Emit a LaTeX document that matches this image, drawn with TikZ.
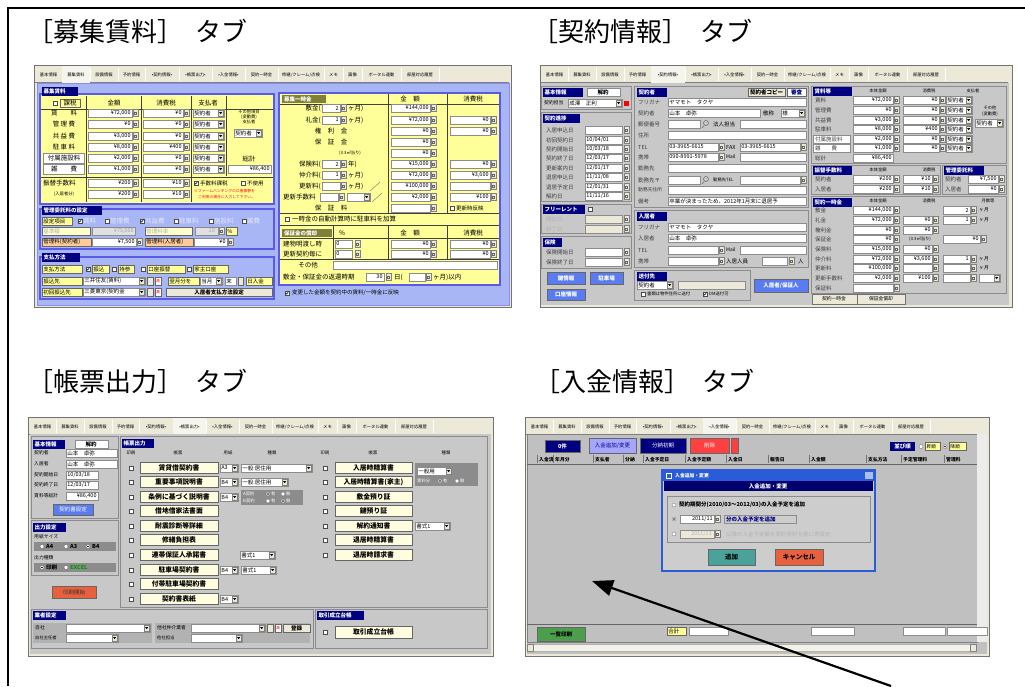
\documentclass[tikz,border=0pt]{standalone}
\usepackage{fontspec}
\setmainfont{Noto Sans CJK JP}
\usetikzlibrary{arrows.meta}
\definecolor{navy}{HTML}{000080}
\definecolor{peri}{HTML}{A9B6F6}
\definecolor{bordblue}{HTML}{5A5AE6}
\definecolor{yel}{HTML}{FFFF99}
\definecolor{paleyel}{HTML}{FFFFCC}
\definecolor{orng}{HTML}{FFCC99}
\definecolor{olv}{HTML}{80803C}
\definecolor{lgt}{HTML}{E4E6FA}
\definecolor{xpbeige}{HTML}{ECE9D8}
\definecolor{wgray}{HTML}{C8C8C8}
\definecolor{lgray}{HTML}{C0C0C0}
\definecolor{btblue}{HTML}{5A7CF0}
\definecolor{cream}{HTML}{FFFDE0}
\definecolor{tealb}{HTML}{4AA39A}
\definecolor{redb}{HTML}{E8603C}
\definecolor{xpblue}{HTML}{2A5CD8}
\newcommand{\fsT}{\fontsize{4.3}{5}\selectfont}
\newcommand{\fsR}{\fontsize{3.8}{4}\selectfont}
\newcommand{\fsA}{\fontsize{4.8}{5}\selectfont}
\newcommand{\fsB}{\fontsize{5.5}{6}\selectfont}
\newcommand{\fsC}{\fontsize{6.5}{7}\selectfont}
\newcommand{\fsH}{\fontsize{5.5}{6}\selectfont\bfseries}
\newcommand{\fsBtn}{\fontsize{6.8}{7}\selectfont\bfseries}
\newcommand{\fsTitle}{\fontsize{26}{28}\selectfont}
\tikzset{
 txt/.style={inner sep=0pt, font=\fsB},
 fld/.style={draw=black!45, fill=white, line width=0.3pt},
 ttl/.style={inner sep=0pt, anchor=west, font=\fsTitle},
}
\newcommand{\tx}[4][]{\node[txt,#1] at ({#2},{#3}) {#4};}
\newcommand{\fldR}[4]{\draw[fld] ({#1},{#3-4}) rectangle ({#2},{#3+4});\node[txt,anchor=east] at ({#2-1.2},{#3}) {#4};}
\newcommand{\fldL}[4]{\draw[fld] ({#1},{#3-4}) rectangle ({#2},{#3+4});\node[txt,anchor=west] at ({#1+1.2},{#3}) {#4};}
\newcommand{\spn}[2]{\draw[fill=xpbeige,draw=black!50,line width=0.3pt] ({#1},{#2-3.5}) rectangle ({#1+5},{#2+3.5});\draw[black!60,line width=0.3pt] ({#1+1.5},{#2-1}) rectangle ({#1+3.5},{#2+1});}
\newcommand{\ddn}[4]{\draw[fld] ({#1},{#3-4}) rectangle ({#2},{#3+4});\draw[fill=xpbeige,draw=black!50,line width=0.3pt] ({#2-6},{#3-3.3}) rectangle ({#2-0.7},{#3+3.3});\fill ({#2-4.9},{#3-0.9}) -- ({#2-1.8},{#3-0.9}) -- ({#2-3.35},{#3+1.1}) -- cycle;\node[txt,anchor=west] at ({#1+1.2},{#3}) {#4};}
\newcommand{\hdrbox}[4]{\fill[navy] ({#1},{#3-4.5}) rectangle ({#2},{#3+4.5});\node[txt,text=white,font=\fsH,anchor=west] at ({#1+1.5},{#3}) {#4};}
\newcommand{\cbx}[2]{\draw[fill=white,draw=black!70,line width=0.3pt] ({#1-2},{#2-2}) rectangle ({#1+2},{#2+2});}
\newcommand{\cbk}[2]{\cbx{#1}{#2}\draw[line width=0.5pt] ({#1-1.3},{#2}) -- ({#1-0.3},{#2+1.1}) -- ({#1+1.4},{#2-1.3});}
\newcommand{\rbo}[2]{\draw[fill=white,draw=black!60,line width=0.3pt] ({#1},{#2}) circle (2pt);}
\newcommand{\rbk}[2]{\rbo{#1}{#2}\fill ({#1},{#2}) circle (0.9pt);}
\newcommand{\btn}[6]{\draw[fill=#5,draw=black!60,line width=0.4pt] ({#1},{#2}) rectangle ({#3},{#4});\node[txt] at ({(#1+#3)/2},{(#2+#4)/2}) {#6};}
\newcommand{\lbox}[5]{\draw[fill=#4,draw=black!60,line width=0.3pt] ({#1},{#3-4}) rectangle ({#2},{#3+4});\node[txt,anchor=west] at ({#1+1.2},{#3}) {#5};}
\newcommand{\sect}[4]{\draw[draw=white,line width=0.5pt] ({#1+0.7},{#2+0.7}) rectangle ({#3+0.7},{#4+0.7});\draw[draw=black!45,line width=0.5pt] ({#1},{#2}) rectangle ({#3},{#4});}
\newcommand{\tabrow}[4]{%
 \draw[black!50,line width=0.4pt] ({#1},{#2+17}) -- ({#4},{#2+17});
 \foreach \a/\b/\tlab [count=\i] in {0/27/基本情報,27/55/募集賃料,55/83/設備情報,83/110/予約情報,110/144/•契約情報•,144/177/•帳票出力•,177/210/•入金情報•,210/243/契約一時金,243/289/{修繕/クレーム/点検},289/308/メモ,308/327/画像,327/366/ポータル連動,366/404/部屋対応履歴}{%
   \ifnum\i=#3\relax
     \fill[white!55!xpbeige] ({#1+\a},{#2+1}) rectangle ({#1+\b},{#2+17.6});
   \fi
   \draw[black!45,line width=0.3pt] ({#1+\b},{#2+3}) -- ({#1+\b},{#2+16});
   \draw[white,line width=0.3pt] ({#1+\b+0.6},{#2+3}) -- ({#1+\b+0.6},{#2+16});
   \node[txt,font=\fsT] at ({#1+(\a+\b)/2},{#2+10}) {\tlab};
 }}
\begin{document}
\begin{tikzpicture}[x=1pt,y=-1pt]
\useasboundingbox (0,0) rectangle (1025,686);
\fill[white] (0,0) rectangle (1025,686);
% frame
\draw[line width=1.4pt] (1025,8) -- (8,8) -- (8,686);
% titles
\node[ttl] (t1) at (27,31) {［募集賃料］\hspace{12pt}タブ};
\node[ttl] (t2) at (532,31) {［契約情報］\hspace{12pt}タブ};
\node[ttl] (t3) at (27,381) {［帳票出力］\hspace{12pt}タブ};
\node[ttl] (t4) at (534,381) {［入金情報］\hspace{12pt}タブ};

% ================= PANEL 1 =================
\draw[fill=xpbeige,draw=black!55,line width=0.6pt] (34,65) rectangle (511,307);
\tabrow{35}{65}{2}{509}
\fill[peri] (37,83) rectangle (509,305);
\draw[bordblue!70,line width=0.6pt] (37,83) rectangle (509,305);
% S1
\fill[yel] (41,95) rectangle (273,203);
\draw[bordblue,line width=1.5pt] (40,94) rectangle (274,204);
\draw[black!75,line width=0.4pt] (86,96)--(86,202) (141,96)--(141,202) (191,96)--(191,202) (226,96)--(226,176) (41,109)--(273,109) (41,177)--(273,177);
\hdrbox{42}{78}{91}{募集賃料}
\cbx{55}{103}
\draw[black!60,line width=0.3pt] (60,99) rectangle (80,107);
\tx[font=\fsC]{70}{103}{課税}
\tx[font=\fsC]{114}{103}{金額}
\tx[font=\fsC]{166}{103}{消費税}
\tx[font=\fsC]{208}{103}{支払者}
\draw[fld] (43,153) rectangle (84,163);
\draw[fld] (43,164) rectangle (84,174);
\foreach \yy/\lab/\am/\tax in {113/{賃　　料}/{¥72,000}/{¥0},124/{管 理 費}/{¥0}/{¥0},136/{共 益 費}/{¥3,000}/{¥0},147/{駐 車 料}/{¥8,000}/{¥400},158/{付属施設料}/{¥2,000}/{¥0},169/{雑　　費}/{¥1,000}/{¥0}}{
 \tx[font=\fsC]{64}{\yy}{\lab}
 \fldR{88}{132}{\yy}{\am}\spn{133}{\yy}
 \fldR{143}{183}{\yy}{\tax}\spn{184}{\yy}
 \ddn{193}{224}{\yy}{契約者}
}
\tx[font=\fsT]{249}{112}{その他項目}
\tx[font=\fsT]{249}{117}{(変動費)}
\tx[font=\fsT]{249}{122}{支払者}
\ddn{234}{262}{133}{契約者}
\tx[font=\fsC]{249}{159}{総計}
\fldR{228}{271}{169}{¥86,400}
\tx[font=\fsC,anchor=west]{43}{183}{振替手数料}
\tx[font=\fsT]{64}{194}{(入居者分)}
\fldR{88}{132}{183}{¥200}\spn{133}{183}
\fldR{88}{132}{194}{¥200}\spn{133}{194}
\fldR{143}{183}{183}{¥10}\spn{184}{183}
\fldR{143}{183}{194}{¥10}\spn{184}{194}
\cbk{196}{183}\tx[anchor=west]{200}{183}{手数料課税}
\cbx{243}{183}\tx[anchor=west]{247}{183}{不使用}
\tx[font=\fsR,text=red,anchor=west]{194}{191}{※ファームバンキングの口座振替を}
\tx[font=\fsR,text=red,anchor=west]{198}{197}{ご利用の場合に入力して下さい。}
% S2
\draw[bordblue,line width=1.5pt] (40,209) rectangle (274,249);
\hdrbox{42}{102}{210}{管理委託料の設定}
\lbox{42}{72}{221}{yel}{設定項目}
\cbk{80}{221}\tx[anchor=west,text=lgt,font=\fsC]{83}{221}{賃料}
\cbx{107}{221}\tx[anchor=west,text=lgt,font=\fsC]{110}{221}{管理費}
\cbk{142}{221}\tx[anchor=west,text=lgt,font=\fsC]{145}{221}{共益費}
\cbx{176}{221}\tx[anchor=west,text=lgt,font=\fsC]{179}{221}{駐車料}
\cbx{211}{221}\tx[anchor=west,text=lgt,font=\fsC]{214}{221}{施設料}
\cbx{244}{221}\tx[anchor=west,text=lgt,font=\fsC]{247}{221}{雑費}
\lbox{42}{90}{231}{paleyel}{\textcolor{black!30}{基準額}}
\draw[fld,fill=black!12] (92,227) rectangle (135,235);\tx[anchor=east,text=black!35]{134}{231}{¥75,000}
\lbox{145}{192}{231}{paleyel}{\textcolor{black!30}{管理料率}}
\draw[fld,fill=black!12] (195,227) rectangle (218,235);\tx[anchor=east,text=black!35]{215}{231}{10}\spn{219}{231}
\lbox{226}{237}{231}{yel}{\%}
\lbox{42}{91}{242}{orng}{管理料(契約者)}
\fldR{92}{136}{242}{¥7,500}\spn{137}{242}
\lbox{145}{193}{242}{orng}{管理料(入居者)}
\fldR{194}{227}{242}{¥0}\spn{228}{242}
% S3
\draw[bordblue,line width=1.5pt] (40,257) rectangle (274,299);
\hdrbox{42}{80}{257}{支払方法}
\lbox{42}{82}{269}{yel}{支払方法}
\cbk{88}{269}\lbox{92}{109}{269}{yel}{振込}
\cbx{114}{269}\lbox{118}{134}{269}{yel}{持参}
\cbx{143}{269}\lbox{147}{185}{269}{yel}{口座振替}
\cbx{189}{269}\lbox{193}{228}{269}{yel}{家主口座}
\lbox{42}{82}{281}{yel}{振込先}
\ddn{83}{145}{281}{三井住友(賃料)}
\btn{147}{277}{153}{285}{xpbeige}{}
\btn{155}{277}{161}{285}{white}{\textcolor{red}{\fsR 満}}
\lbox{168}{199}{281}{yel}{翌月分を}
\ddn{200}{222}{281}{当月}
\fldL{225}{236}{281}{末}
\btn{238}{277}{243}{285}{xpbeige}{}
\lbox{246}{272}{281}{yel}{日入金}
\lbox{42}{82}{292}{yel}{初回振込先}
\ddn{83}{145}{292}{三菱東京(契約金}
\btn{147}{288}{153}{296}{xpbeige}{}
\btn{155}{288}{161}{296}{white}{\textcolor{red}{\fsR 満}}
\btn{166}{288}{272}{296}{xpbeige}{\fsH 入居者支払方法設定}
% right section
\fill[yel] (280,94) rectangle (499,284);
\draw[bordblue,line width=1.5pt] (279,93) rectangle (500,285);
\draw[black!75,line width=0.4pt] (388,94)--(388,213) (447,94)--(447,213) (280,104)--(499,104) (280,213)--(499,213) (280,225)--(499,225) (333,225)--(333,259) (388,225)--(388,259) (447,225)--(447,259) (280,238)--(499,238) (280,259)--(499,259);
\fill[olv] (282,95) rectangle (326,103);\tx[anchor=west,text=white,font=\fsH]{284}{99}{募集一時金}
\tx[font=\fsC]{410}{99}{金　額}
\tx[font=\fsC]{473}{99}{消費税}
\tx[font=\fsC,anchor=east]{321}{108}{敷金(}\fldR{322}{340}{108}{2}\spn{341}{108}\tx[font=\fsC,anchor=west]{348}{108}{ヶ月)}
\tx[font=\fsC,anchor=east]{321}{120}{礼金(}\fldR{322}{340}{120}{1}\spn{341}{120}\tx[font=\fsC,anchor=west]{348}{120}{ヶ月)}
\tx[font=\fsC]{331}{131}{権　利　金}
\tx[font=\fsC]{331}{142}{保　証　金}
\tx[font=\fsT]{350}{153}{(3.3㎡当り)}
\tx[font=\fsC,anchor=east]{321}{164}{保険料(}\fldR{322}{340}{164}{2}\spn{341}{164}\tx[font=\fsC,anchor=west]{348}{164}{年)}
\tx[font=\fsC,anchor=east]{321}{175}{仲介料(}\fldR{322}{340}{175}{1}\spn{341}{175}\tx[font=\fsC,anchor=west]{348}{175}{ヶ月)}
\tx[font=\fsC,anchor=east]{321}{186}{更新料(}\fldR{322}{340}{186}{}\spn{341}{186}\tx[font=\fsC,anchor=west]{348}{186}{ヶ月)}
\tx[font=\fsC,anchor=west]{283}{197}{更新手数料}\fldR{320}{338}{197}{}\spn{339}{197}\ddn{347}{370}{197}{}
\draw[black!55,line width=0.4pt] (370,191)--(380,182) (372,202)--(382,193);
\tx[font=\fsC]{331}{208}{保　証　料}
\foreach \yy/\am in {108/{¥144,000},120/{¥72,000},131/{¥0},142/{¥0},153/{¥0},164/{¥15,000},175/{¥72,000},186/{¥100,000},197/{¥2,000},208/{}}{
 \fldR{391}{430}{\yy}{\am}\spn{431}{\yy}}
\foreach \yy/\tax in {120/{¥0},131/{¥0},164/{¥0},175/{¥3,600},186/{},197/{¥100}}{
 \fldR{450}{490}{\yy}{\tax}\spn{491}{\yy}}
\cbx{452}{208}\tx[anchor=west]{456}{208}{更新時反映}
\cbx{287}{219}\tx[anchor=west,font=\fsC]{292}{219}{一時金の自動計算時に駐車料を加算}
\fill[olv] (282,229) rectangle (332,237);\tx[anchor=west,text=white,font=\fsH]{284}{233}{保証金の償却}
\tx[font=\fsC]{342}{233}{\%}
\tx[font=\fsC]{410}{233}{金　額}
\tx[font=\fsC]{473}{233}{消費税}
\tx[font=\fsC,anchor=west]{283}{244}{建物明渡し時}\fldL{335}{352}{244}{0}\spn{355}{244}
\tx[font=\fsC,anchor=west]{283}{254}{更新契約毎に}\fldL{335}{352}{254}{0}\spn{355}{254}
\fldR{391}{430}{244}{¥0}\spn{431}{244}\fldR{450}{490}{244}{¥0}\spn{491}{244}
\fldR{391}{430}{254}{¥0}\spn{431}{254}\fldR{450}{490}{254}{¥0}\spn{491}{254}
\tx[font=\fsC]{308}{265}{その他}\fldL{333}{497}{265}{}
\tx[font=\fsC,anchor=west]{283}{277}{敷金・保証金の返還時期}\fldR{366}{384}{277}{30}\spn{386}{277}\tx[font=\fsC,anchor=west]{394}{277}{日(}\fldL{409}{425}{277}{}\spn{426}{277}\tx[font=\fsC,anchor=west]{433}{277}{ヶ月)以内}
\cbk{287}{293}\tx[anchor=west,font=\fsB]{292}{293}{変更した金額を契約中の賃料/一時金に反映}

% ================= PANEL 2 =================
\draw[fill=xpbeige,draw=black!55,line width=0.6pt] (540,65) rectangle (1012,307);
\tabrow{541}{65}{5}{1008}
\fill[wgray] (541,83) rectangle (1009,305);
% left column
\sect{541}{86}{631}{109}
\hdrbox{543}{583}{92}{基本情報}
\draw[fld,line width=0.5pt] (587,88) rectangle (620,96);\tx[font=\fsH]{603}{92}{解約}
\tx[anchor=west,font=\fsA]{544}{103}{契約担当}\ddn{568}{622}{103}{成澤　正利}
\fill[red] (624,101) rectangle (629,106);
\sect{541}{112}{631}{201}
\hdrbox{543}{580}{118}{契約進捗}
\foreach \yy/\lab/\val in {130/入居申込日/{},140/初回契約日/{10/04/01},149/契約開始日/{10/03/18},158/契約終了日/{12/03/17},168/更新案内日/{12/01/17},177/退居申込日/{11/11/08},187/退居予定日/{12/01/31},196/解約日/{11/11/16}}{
 \tx[anchor=west,font=\fsB,text=black!75]{546}{\yy}{\lab}\fldL{585}{622}{\yy}{\val}\spn{624}{\yy}}
\sect{541}{204}{631}{233}
\hdrbox{543}{585}{209}{フリーレント}\cbx{590}{209}
\tx[anchor=west,text=black!30]{546}{219}{開始日}\draw[fld,fill=xpbeige] (585,215) rectangle (622,223);\spn{624}{219}
\tx[anchor=west,text=black!30]{546}{229}{終了日}\draw[fld,fill=xpbeige] (585,225) rectangle (622,233);\spn{624}{229}
\sect{541}{236}{631}{268}
\hdrbox{543}{562}{242}{保険}
\tx[anchor=west,text=black!75]{546}{252}{保険開始日}\fldL{585}{622}{252}{}\spn{624}{252}
\tx[anchor=west,text=black!75]{546}{262}{保険終了日}\fldL{585}{622}{262}{}\spn{624}{262}
\btn{547}{272}{585}{284}{btblue}{\textcolor{white}{\fsH 鍵情報}}
\btn{590}{272}{623}{284}{btblue}{\textcolor{white}{\fsH 駐車場}}
\btn{547}{289}{585}{300}{btblue}{\textcolor{white}{\fsH 口座情報}}
% middle column
\sect{634}{86}{808}{207}
\hdrbox{637}{667}{92}{契約者}
\btn{748}{88}{785}{96}{xpbeige}{\fsH 契約者コピー}
\btn{787}{88}{806}{96}{white}{\textcolor{navy}{\fsH 審査}}
\tx[anchor=west,text=black!75]{638}{102}{フリガナ}\fldL{668}{806}{102}{ヤマモト　タクヤ}
\tx[anchor=west,text=black!75]{638}{113}{契約者}\fldL{668}{760}{113}{山本　卓弥}\tx[anchor=west]{763}{113}{敬称}\ddn{781}{805}{113}{様}
\tx[anchor=west,text=black!75]{638}{124}{郵便番号}\fldL{668}{700}{124}{}
\draw[black!60,line width=0.5pt] (706,123) circle (2.5pt) (704,125.5)--(702,128);
\tx[anchor=west]{713}{124}{法人担当}\fldL{740}{806}{124}{}
\tx[anchor=west,text=black!75]{638}{135}{住所}\fldL{668}{806}{135}{}
\tx[anchor=west,text=black!75]{638}{147}{TEL}\fldL{668}{718}{147}{03-3965-6615}\spn{719}{147}\tx[anchor=west]{726}{147}{FAX}\fldL{740}{800}{147}{03-3965-6615}\spn{801}{147}
\tx[anchor=west,text=black!75]{638}{157}{携帯}\fldL{668}{718}{157}{090-8991-5978}\spn{719}{157}\tx[anchor=west,font=\fsA]{726}{157}{Mail}\fldL{740}{806}{157}{}
\tx[anchor=west,text=black!75]{638}{168}{勤務先}\fldL{668}{806}{168}{}
\tx[anchor=west,text=black!75]{638}{180}{勤務先〒}\fldL{668}{700}{180}{}
\draw[black!60,line width=0.5pt] (706,179) circle (2.5pt) (704,181.5)--(702,184);
\tx[anchor=west,font=\fsT]{713}{180}{勤務先TEL}\fldL{740}{800}{180}{}\spn{801}{180}
\tx[anchor=west,text=black!75,font=\fsA]{638}{190}{勤務先住所}\fldL{668}{806}{190}{}
\tx[anchor=west,text=black!75]{638}{201}{備考}\fldL{668}{806}{201}{卒業が決まったため、2012年1月末に退居予}
\sect{634}{210}{808}{267}
\hdrbox{637}{667}{216}{入居者}
\tx[anchor=west,text=black!75]{638}{227}{フリガナ}\fldL{668}{806}{227}{ヤマモト　タクヤ}
\tx[anchor=west,text=black!75]{638}{238}{入居者}\fldL{668}{806}{238}{山本　卓弥}
\tx[anchor=west,text=black!75]{638}{250}{TEL}\fldL{668}{718}{250}{}\spn{719}{250}\tx[anchor=west,font=\fsA]{726}{250}{Mail}\fldL{740}{806}{250}{}
\tx[anchor=west,text=black!75]{638}{261}{携帯}\fldL{668}{718}{261}{}\spn{719}{261}\tx[anchor=west]{726}{261}{入居人員}\fldL{762}{787}{261}{}\spn{789}{261}\tx[anchor=west]{798}{261}{人}
\sect{634}{270}{750}{300}
\hdrbox{637}{667}{276}{送付先}
\ddn{637}{673}{285}{契約者}
\draw[fld,fill=xpbeige] (678,281) rectangle (745,289);
\cbx{643}{294}\tx[anchor=west,font=\fsT]{647}{294}{書類は物件住所に送付}
\cbk{705}{294}\tx[anchor=west,font=\fsT]{709}{294}{DM送付可}
\btn{754}{279}{808}{292}{btblue}{\textcolor{white}{\fsH 入居者/保証人}}
% right column
\sect{811}{86}{1006}{163}
\hdrbox{813}{852}{91}{賃料等}
\tx[font=\fsT]{878}{91}{本体金額}\tx[font=\fsT]{929}{91}{消費税}\tx[font=\fsT]{973}{91}{支払者}
\draw[fld] (813,135) rectangle (850,143);
\draw[fld] (813,144) rectangle (850,152);
\foreach \yy/\lab/\am/\tax in {100/賃料/{¥72,000}/{¥0},110/管理費/{¥0}/{¥0},120/共益費/{¥3,000}/{¥0},129/駐車料/{¥8,000}/{¥400},139/付属施設料/{¥2,000}/{¥0},148/{雑　　費}/{¥1,000}/{¥0}}{
 \tx[anchor=west,text=black!75]{815}{\yy}{\lab}
 \fldR{853}{893}{\yy}{\am}\spn{894}{\yy}
 \fldR{903}{939}{\yy}{\tax}\spn{940}{\yy}
 \ddn{946}{972}{\yy}{契約者}}
\tx[font=\fsT]{990}{108}{その他}
\tx[font=\fsT]{990}{114}{(変動費)}
\ddn{975}{1003}{123}{契約者}
\tx[anchor=west,text=black!75]{815}{158}{総計}\fldR{853}{893}{158}{¥86,400}
\sect{811}{165}{940}{194}
\hdrbox{813}{852}{170}{振替手数料}
\tx[font=\fsT]{878}{170}{本体金額}\tx[font=\fsT]{929}{170}{消費税}
\tx[anchor=west,text=black!75]{815}{179}{契約者}\fldR{853}{893}{179}{¥200}\spn{894}{179}\fldR{903}{932}{179}{¥10}\spn{933}{179}
\tx[anchor=west,text=black!75]{815}{189}{入居者}\fldR{853}{893}{189}{¥200}\spn{894}{189}\fldR{903}{932}{189}{¥10}\spn{933}{189}
\sect{942}{165}{1006}{194}
\hdrbox{944}{984}{170}{管理委託料}
\tx[anchor=west,text=black!75]{945}{179}{契約者}\fldR{968}{998}{179}{¥7,500}\spn{999}{179}
\tx[anchor=west,text=black!75]{945}{189}{入居者}\fldR{968}{998}{189}{¥0}\spn{999}{189}
\sect{811}{196}{1006}{293}
\hdrbox{813}{852}{202}{契約一時金}
\tx[font=\fsT]{878}{201}{本体金額}\tx[font=\fsT]{929}{201}{消費税}\tx[font=\fsT]{988}{201}{月数等}
\foreach \yy/\lab/\am in {210/敷金/{¥144,000},220/礼金/{¥72,000},230/権利金/{¥0},239/保証金/{¥0},249/保険料/{¥15,000},259/仲介料/{¥72,000},268/更新料/{¥100,000},278/更新手数料/{¥2,000},288/保証料/{}}{
 \tx[anchor=west,text=black!75]{815}{\yy}{\lab}
 \fldR{853}{893}{\yy}{\am}\spn{894}{\yy}}
\foreach \yy/\tax in {220/{¥0},230/{¥0},249/{¥0},259/{¥3,600},268/{},278/{¥100}}{
 \fldR{903}{932}{\yy}{\tax}\spn{933}{\yy}}
\tx[font=\fsT]{920}{239}{(3.3㎡当り)}
\fldR{943}{980}{239}{¥0}\spn{981}{239}
\foreach \yy/\mv in {210/2,220/1,259/1,268/{}}{
 \fldR{943}{970}{\yy}{\mv}\spn{971}{\yy}\tx[anchor=west,font=\fsA]{979}{\yy}{ヶ月}}
\fldR{943}{970}{278}{}\spn{971}{278}\ddn{979}{1000}{278}{}
\draw[fill=xpbeige,draw=black!55,line width=0.4pt] (812,294) rectangle (857,304) (857,294) rectangle (905,304);
\tx[font=\fsA]{834}{299}{契約一時金}\tx[font=\fsA]{881}{299}{保証金償却}

% ================= PANEL 3 =================
\draw[fill=xpbeige,draw=black!55,line width=0.6pt] (28,417) rectangle (493,656);
\tabrow{29}{417}{6}{490}
\fill[wgray] (30,434) rectangle (491,654);
\sect{31}{436}{118}{518}
\hdrbox{33}{65}{444}{基本情報}
\draw[fld,line width=0.5pt] (75,440) rectangle (108,448);\tx[font=\fsH]{91}{444}{解約}
\tx[anchor=west,font=\fsA]{34}{453}{契約者}\fldL{66}{117}{453}{山本　卓弥}
\tx[anchor=west,font=\fsA]{34}{464}{入居者}\fldL{66}{117}{464}{山本　卓弥}
\tx[anchor=west,font=\fsA]{34}{475}{契約開始日}\fldL{66}{98}{475}{10/03/18}
\tx[anchor=west,font=\fsA]{34}{485}{契約終了日}\fldL{66}{98}{485}{12/03/17}
\tx[anchor=west,font=\fsA]{34}{496}{賃料等総計}\fldR{66}{98}{496}{¥86,400}
\btn{53}{504}{93}{515}{btblue}{\textcolor{white}{\fsB 契約書設定}}
\sect{31}{520}{118}{575}
\hdrbox{33}{66}{527}{出力設定}
\tx[anchor=west,font=\fsA]{34}{537}{用紙サイズ}
\fill[black!45] (34,542) rectangle (116,551);
\rbo{42}{546.5}\tx[anchor=west,font=\fsH]{46}{546.5}{A4}
\rbo{66}{546.5}\tx[anchor=west,font=\fsH]{70}{546.5}{A3}
\rbk{88}{546.5}\tx[anchor=west,font=\fsH]{92}{546.5}{B4}
\tx[anchor=west,font=\fsA]{34}{558}{出力種類}
\fill[black!45] (34,563) rectangle (116,572);
\rbk{42}{567.5}\tx[anchor=west,font=\fsH]{46}{567.5}{印刷}
\rbo{66}{567.5}\tx[anchor=west,font=\fsH,text=green!60!black]{70}{567.5}{EXCEL}
\btn{52}{586}{96}{598}{redb}{\textcolor{black!80}{\fsB 印刷開始}}
\sect{120}{436}{487}{607}
\hdrbox{122}{154}{443}{帳票出力}
\tx[font=\fsT]{131}{453}{印刷}\tx[font=\fsT]{178}{453}{帳票}\tx[font=\fsT]{228}{453}{用紙}\tx[font=\fsT]{272}{453}{種類}
\tx[font=\fsT]{325}{453}{印刷}\tx[font=\fsT]{373}{453}{帳票}\tx[font=\fsT]{446}{453}{種類}
\foreach \yy/\lab in {468/賃貸借契約書,482/重要事項説明書,497/条例に基づく説明書,511/借地借家法書面,526/耐震診断等詳細,540/修繕負担表,555/連帯保証人承諾書,570/駐車場契約書,584/付帯駐車場契約書,599/契約書表紙}{
 \cbx{131}{\yy}\btn{140}{\yy-5.5}{218}{\yy+5.5}{cream}{\fsBtn\lab}}
\foreach \yy/\lab in {468/入居時精算書,482/入居時精算書(家主),497/敷金預り証,511/鍵預り証,526/解約通知書,540/退居時精算書,555/退居時請求書}{
 \cbx{325}{\yy}\btn{335}{\yy-5.5}{412}{\yy+5.5}{cream}{\fsBtn\lab}}
\ddn{220}{238}{468}{A3}\ddn{220}{238}{482}{B4}\ddn{220}{238}{497}{B4}\ddn{220}{238}{570}{B4}\ddn{220}{238}{599}{B4}
\ddn{241}{312}{468}{一般:居住用}
\ddn{241}{288}{482}{一般:居住用}
\fill[black!45] (241,490) rectangle (303,505);
\tx[anchor=west,font=\fsT,text=white]{243}{494}{A契約}\rbk{268}{494}\tx[anchor=west,font=\fsT,text=white]{271}{494}{有}\rbo{283}{494}\tx[anchor=west,font=\fsT,text=white]{286}{494}{無}
\tx[anchor=west,font=\fsT,text=white]{243}{501}{B契約}\rbo{268}{501}\tx[anchor=west,font=\fsT,text=white]{271}{501}{有}\rbk{283}{501}\tx[anchor=west,font=\fsT,text=white]{286}{501}{無}
\ddn{240}{275}{555}{書式1}
\ddn{241}{276}{570}{書式1}
\fill[black!45] (415,463) rectangle (478,486);
\ddn{417}{452}{471}{一般用}
\tx[anchor=west,font=\fsT,text=white]{417}{481}{賃料分}\rbk{440}{481}\tx[anchor=west,font=\fsT,text=white]{443}{481}{有}\rbo{457}{481}\tx[anchor=west,font=\fsT,text=white]{460}{481}{無}
\ddn{415}{450}{526}{書式1}
\sect{31}{609}{313}{648}
\hdrbox{33}{66}{615}{業者設定}
\fill[black!30] (33,623) rectangle (152,643);
\fill[black!30] (155,623) rectangle (310,643);
\tx[anchor=west,font=\fsA]{35}{628}{自社}\ddn{66}{150}{628}{}
\tx[anchor=west,font=\fsT]{35}{638}{自社主任者}\ddn{66}{118}{638}{}
\tx[anchor=west,font=\fsA]{157}{628}{他社仲介業者}\ddn{191}{265}{628}{}
\btn{267}{624}{273}{632}{xpbeige}{}
\btn{275}{624}{281}{632}{white}{\textcolor{red}{\fsR 満}}
\btn{283}{624}{310}{632}{xpbeige}{\fsH 登録}
\tx[anchor=west,font=\fsT]{157}{638}{他社担当}\ddn{191}{242}{638}{}
\sect{315}{609}{487}{648}
\hdrbox{317}{364}{615}{取引成立台帳}
\cbx{325}{632}\btn{335}{626}{412}{638}{cream}{\fsBtn 取引成立台帳}

% ================= PANEL 4 =================
\draw[fill=xpbeige,draw=black!55,line width=0.6pt] (525,417) rectangle (989,656);
\tabrow{526}{417}{7}{987}
\fill[lgray] (527,434) rectangle (987,654);
\draw[black!50,line width=0.5pt] (527,434) rectangle (977,642);
\fill[white!70!lgray] (977,434) rectangle (987,642);
\btn{545}{440}{580}{452}{navy}{\textcolor{white}{\fsH 0件}}
\btn{589}{438}{636}{453}{blue!35!white}{\textcolor{navy}{\fsB 入金追加/変更}}
\btn{640}{438}{686}{453}{blue!50!black}{\textcolor{white}{\fsB 分納初期}}
\btn{690}{438}{729}{453}{red!75!white}{\textcolor{white}{\fsB 削除}}
\btn{731}{438}{738}{453}{red!75!white}{}
\fill[navy] (890,442) rectangle (915,451);\tx[text=white,font=\fsH]{902.5}{446.5}{並び順}
\rbo{921}{446.5}\lbox{925}{940}{446.5}{yel}{\fsA 昇順}
\rbk{945}{446.5}\lbox{949}{966}{446.5}{yel}{\fsA 降順}
\draw[black!60,line width=0.4pt] (527,464)--(977,464);
\foreach \xx/\lab in {539/入金済,555/年月分,595/支払者,625/分納,645/入金予定日,687/入金予定額,728/入金日,770/報告日,811/入金額,868/支払方法,903/予定管理料,946/管理料}{
 \draw[black!55,line width=0.3pt] ({\xx-2},455)--({\xx-2},463);
 \tx[anchor=west,font=\fsA\bfseries]{\xx}{459.5}{\lab}}
% dialog
\fill[lgray!80!white] (662,470) rectangle (875,571);
\draw[xpblue,line width=1.5pt] (662,470) rectangle (875,571);
\fill[xpblue] (662,470) rectangle (875,481);
\fill[white!60!xpblue] (865,472) rectangle (873,479);
\draw[white,line width=0.4pt] (666,473) rectangle (671,478);
\tx[anchor=west,text=white,font=\fsA\bfseries]{675}{475.5}{入金追加・変更}
\fill[navy!85!black] (664,481) rectangle (873,491);
\tx[text=white,font=\fsB\bfseries]{768}{486}{入金追加・変更}
\sect{667}{496}{870}{542}
\rbo{674}{505}\tx[anchor=west,font=\fsB\bfseries]{679}{505}{契約期間分(2010/03～2012/03)の入金予定を追加}
\rbk{674}{519}\fldR{680}{714}{519}{2011/11}\spn{715}{519}
\draw[fld,fill=lgray!80!white] (724,515) rectangle (796,523);\tx[anchor=west,font=\fsB\bfseries,text=navy]{726}{519}{分の入金予定を追加}
\rbo{674}{534}\draw[fld,fill=xpbeige] (680,530) rectangle (714,538);\tx[anchor=east,text=black!30]{712}{534}{2011/11}\spn{715}{534}
\tx[anchor=west,font=\fsB,text=black!30]{726}{534}{以降の入金予定額を契約賃料を基に再設定}
\btn{708}{549}{755}{565}{tealb}{\fsC\bfseries 追加}
\btn{775}{549}{823}{565}{redb}{\fsC\bfseries キャンセル}
% bottom
\draw[black!60,line width=0.5pt] (527,624)--(977,624);
\btn{537}{627}{585}{641}{green!45!black!70!white}{\fsB\bfseries 一覧印刷}
\lbox{667}{686}{631}{yel}{\fsB 合計}
\fldL{689}{728}{631.5}{}
\fldL{811}{854}{631.5}{}
\fldL{903}{945}{631.5}{}
\fldL{947}{987}{631.5}{}
\draw[fill=xpbeige!60!white,draw=black!30,line width=0.3pt] (527,644) rectangle (976,651);
\draw[fill=xpbeige,draw=black!50,line width=0.3pt] (527,644) rectangle (533,651);
\draw[fill=xpbeige,draw=black!50,line width=0.3pt] (970,644) rectangle (976,651);

% arrow
\coordinate (arrTail) at (891,686);
\coordinate (arrTip) at (592,581);
\draw[line width=2.2pt,-{Triangle[length=21pt,width=16pt]}] (arrTail) -- (arrTip);
\end{tikzpicture}
\end{document}
